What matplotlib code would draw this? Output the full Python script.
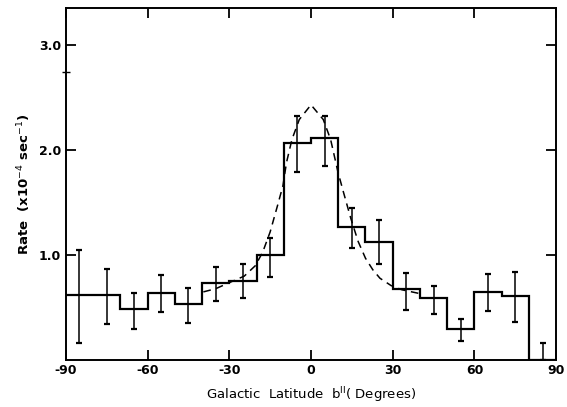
import numpy as np
import matplotlib.pyplot as plt

# 10-degree bins in galactic latitude
bin_edges = [-90, -80, -70, -60, -50, -40, -30, -20, -10, 0,
             10, 20, 30, 40, 50, 60, 70, 80, 90]
bin_centers = [-85, -75, -65, -55, -45, -35, -25, -15, -5,
               5, 15, 25, 35, 45, 55, 65, 75, 85]
rate = [0.62, 0.62, 0.49, 0.64, 0.53, 0.73, 0.75, 1.00, 2.07,
        2.11, 1.27, 1.12, 0.68, 0.59, 0.30, 0.65, 0.61, 0.00]
err_hi = [1.05, 0.87, 0.64, 0.81, 0.69, 0.89, 0.92, 1.16, 2.32,
          2.32, 1.45, 1.33, 0.83, 0.71, 0.39, 0.82, 0.84, 0.16]
err_lo = [0.16, 0.34, 0.30, 0.46, 0.35, 0.56, 0.59, 0.79, 1.79,
          1.85, 1.07, 0.92, 0.48, 0.44, 0.18, 0.47, 0.36, 0.00]

# dashed model curve
curve_x = [-39.5, -35, -29.8, -24.5, -20.4, -17.7, -15, -12.3, -10.3, -9,
           -7, -4.3, 0, 4.5, 7.2, 9.9, 11.9, 14.6, 17.3, 20, 22.7, 25.3,
           29.4, 33.4, 38.8, 40.5]
curve_y = [0.65, 0.68, 0.74, 0.80, 0.90, 1.03, 1.22, 1.47, 1.66, 1.88,
           2.10, 2.29, 2.43, 2.29, 2.10, 1.79, 1.60, 1.35, 1.13, 0.97, 0.86,
           0.78, 0.71, 0.67, 0.64, 0.63]

fig = plt.figure(figsize=(5.67, 4.07), dpi=100)
ax = fig.add_axes([0.116, 0.115, 0.865, 0.865])

ax.stairs(rate, bin_edges, color="black", linewidth=1.6, baseline=None)

yerr = [np.array(rate) - np.array(err_lo), np.array(err_hi) - np.array(rate)]
ax.errorbar(bin_centers, rate, yerr=yerr, fmt="none", ecolor="black",
            elinewidth=1.1, capsize=2, capthick=1.6)

ax.plot(curve_x, curve_y, color="black", linestyle=(0, (5, 3.5)), linewidth=1.1)

ax.set_xlim(-90, 90)
ax.set_ylim(0, 3.35)
ax.set_xticks([-90, -60, -30, 0, 30, 60, 90])
ax.set_xticklabels(["-90", "-60", "-30", "0", "30", "60", "90"],
                   fontweight="bold")
ax.set_yticks([1.0, 2.0, 3.0])
ax.set_yticklabels(["1.0", "2.0", "3.0"], fontweight="bold")
ax.set_yticks([2.74], minor=True)

for s in ax.spines.values():
    s.set_linewidth(1.4)

ax.tick_params(axis="both", direction="in", length=7, width=1.3,
               labelsize=9, top=True, right=True)
ax.tick_params(axis="y", which="minor", direction="inout", length=6,
               width=1.0, left=True, right=False)
ax.tick_params(axis="x", pad=3)

ax.set_xlabel(r"Galactic  Latitude  b$^{\rm II}$( Degrees)", fontsize=9.5,
              labelpad=6)
ax.set_ylabel(r"Rate  (x10$^{-4}$ sec$^{-1}$)", fontsize=9.5, fontweight="bold")

plt.savefig("out.png", dpi=100)
